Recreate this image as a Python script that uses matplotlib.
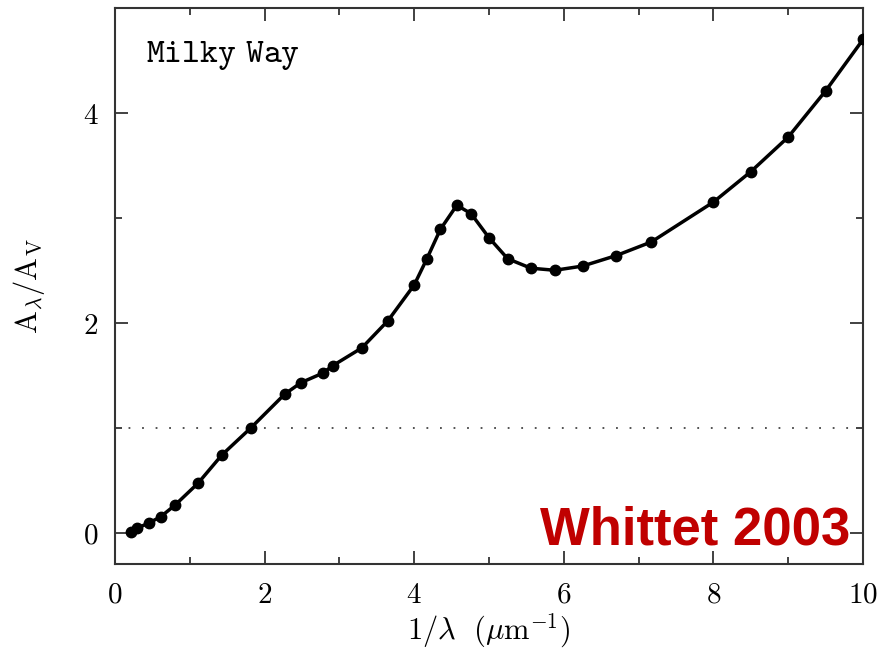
import numpy as np
import matplotlib
matplotlib.use('Agg')
import matplotlib.pyplot as plt
import matplotlib.ticker as ticker

plt.rcParams['mathtext.fontset'] = 'cm'
plt.rcParams['font.family'] = 'serif'

# Milky Way extinction curve (Whittet 2003)
invWave = [0.21, 0.29, 0.45, 0.61, 0.80, 1.11, 1.43, 1.82, 2.27, 2.49, 2.78,
           2.91, 3.30, 3.65, 4.00, 4.17, 4.35, 4.57, 4.76, 5.00, 5.25, 5.56,
           5.88, 6.25, 6.70, 7.17, 8.00, 8.50, 9.00, 9.50, 10.00]
aRatio = [0.01, 0.04, 0.09, 0.15, 0.26, 0.47, 0.74, 1.00, 1.32, 1.43, 1.52,
          1.59, 1.76, 2.02, 2.36, 2.61, 2.89, 3.12, 3.04, 2.81, 2.61, 2.52,
          2.50, 2.54, 2.64, 2.77, 3.15, 3.44, 3.77, 4.21, 4.70]

fig = plt.figure(figsize=(8.81, 6.61), dpi=100)
ax = fig.add_axes([0.1305, 0.1467, 0.8491, 0.8412])

ax.axhline(1.0, color='#444444', linewidth=1.3, linestyle=(0, (1, 6.5)))
ax.plot(invWave, aRatio, color='black', linewidth=2.5, marker='o',
        markersize=7.5, zorder=3)

ax.set_xlim(0, 10)
ax.set_ylim(-0.3, 5.0)

ax.xaxis.set_major_locator(ticker.MultipleLocator(2))
ax.xaxis.set_minor_locator(ticker.MultipleLocator(1))
ax.yaxis.set_major_locator(ticker.MultipleLocator(2))
ax.yaxis.set_minor_locator(ticker.MultipleLocator(1))
ax.xaxis.set_major_formatter(ticker.FormatStrFormatter('$%d$'))
ax.yaxis.set_major_formatter(ticker.FormatStrFormatter('$%d$'))

for sp in ax.spines.values():
    sp.set_linewidth(1.5)
    sp.set_color('#333333')
ax.tick_params(which='both', direction='in', top=True, right=True,
               color='#333333', width=1.3, labelsize=21)
ax.tick_params(which='major', length=9.5, pad=12)
ax.tick_params(which='minor', length=5)

ax.set_xlabel(r'$1/\lambda\ \ (\mu\mathrm{m}^{-1})$', fontsize=22, labelpad=2)
ax.set_ylabel(r'$\mathrm{A}_\lambda/\mathrm{A}_\mathrm{V}$', fontsize=22,
              labelpad=26)

ax.text(0.0414, 4.486, r'$\mathtt{Milky\ Way}$', fontsize=24.5,
        transform=ax.get_yaxis_transform(), va='baseline', ha='left')
ax.text(0.9826, -0.114, 'Whittet 2003', fontsize=38, fontweight='bold',
        family='Liberation Sans', color='#C00000',
        transform=ax.get_yaxis_transform(), va='baseline', ha='right')

fig.savefig('out.png', dpi=100)
